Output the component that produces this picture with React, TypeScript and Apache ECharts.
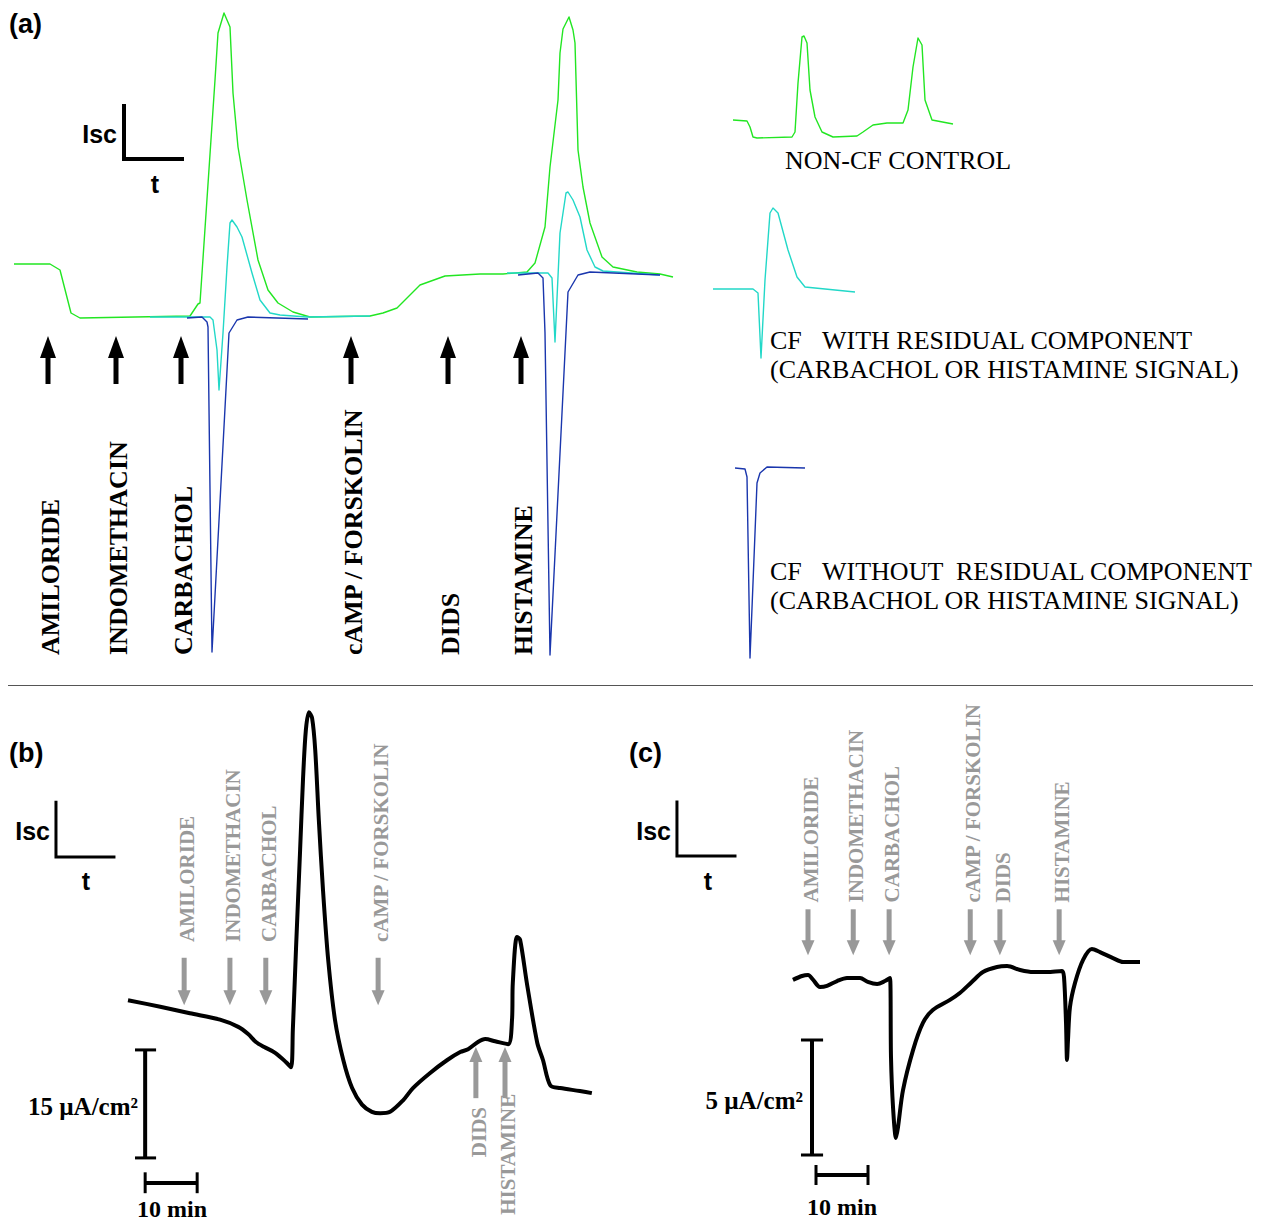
import React, { useEffect, useRef } from 'react';
import * as echarts from 'echarts';

// ---------- Panel (a): schematic traces, arbitrary units (time a.u., Isc a.u. vs baseline) ----------
const aNonCfMain: [number, number][] = [[0,54],[36,54],[46,48],[57,5],[66,0],[176,2],[184,14],[186,15],[201,238],[204,285],[210,305],[216,291],[219,225],[224,171],[233,118],[244,58],[254,28],[264,15],[279,6],[296,1],[356,2],[369,5],[383,10],[406,33],[431,42],[466,44],[489,44],[513,46],[521,55],[531,91],[536,151],[544,218],[546,265],[549,289],[555,301],[559,288],[561,275],[564,168],[569,131],[576,95],[588,61],[599,51],[623,46],[646,44],[659,41]];
const aResidualCarbachol: [number, number][] = [[136,1],[193,1],[196,1],[199,-2],[203,-32],[205,-72],[209,-15],[213,51],[216,95],[218,98],[223,91],[228,81],[238,45],[246,18],[256,5],[266,3],[293,1],[356,2]];
const aNoResidualCarbachol: [number, number][] = [[173,0],[188,1],[193,-4],[194,-9],[198,-334],[215,-15],[223,-2],[234,1],[294,-1]];
const aResidualHistamine: [number, number][] = [[493,45],[534,45],[538,40],[541,-24],[546,85],[552,125],[554,126],[559,118],[566,101],[573,68],[581,51],[589,47],[646,43]];
const aNoResidualHistamine: [number, number][] = [[504,43],[524,45],[529,40],[531,-15],[536,-337],[554,26],[564,43],[576,46],[646,43]];
const aLegendNonCf: [number, number][] = [[719,198],[733,197],[736,191],[739,181],[743,180],[778,181],[781,186],[784,235],[788,281],[790,282],[793,275],[796,228],[801,201],[808,186],[819,181],[843,182],[849,186],[859,193],[873,195],[889,195],[894,208],[899,251],[904,280],[908,273],[911,218],[918,198],[939,194]];
const aLegendResidual: [number, number][] = [[699,29],[739,29],[744,25],[747,-40],[751,38],[756,105],[759,110],[764,105],[774,68],[783,41],[791,31],[841,26]];
const aLegendNoResidual: [number, number][] = [[721,-150],[731,-151],[733,-159],[736,-340],[743,-165],[746,-155],[753,-149],[791,-150]];
const aScaleL: [number, number][] = [[110,212],[110,159],[168,159]];
const aArrowLabels = ['AMILORIDE', 'INDOMETHACIN', 'CARBACHOL', 'cAMP / FORSKOLIN', 'DIDS', 'HISTAMINE'];
const aArrowT = [34, 102, 167, 337, 434, 507];
const aArrowFrom = [-66, -66, -66, -66, -66, -66];
const aArrowTo = [-18, -18, -18, -18, -18, -18];
const aLabelAt = [-337, -337, -337, -337, -337, -337];

// ---------- Panel (b): time (min), Isc (µA/cm²) ----------
const bTrace: [number, number][] = [[20.0,30.3],[26.2,29.4],[31.9,28.5],[37.7,27.6],[41.2,26.6],[43.1,25.6],[44.6,24.5],[46.2,23.8],[48.3,23.0],[50.4,21.7],[51.35,21.0],[51.7,26.2],[52.3,37.3],[53.1,51.2],[53.65,60.9],[54.2,67.8],[54.8,70.3],[55.4,69.5],[56.0,65.1],[56.7,55.3],[57.5,45.6],[58.5,35.9],[59.8,27.6],[61.4,22.0],[63.1,18.1],[65.0,15.8],[66.9,14.8],[68.5,14.6],[70.4,14.8],[72.9,16.4],[74.8,18.1],[78.1,20.2],[81.4,22.0],[83.9,23.1],[85.4,23.5],[87.3,24.5],[88.7,24.9],[90.6,24.6],[93.1,24.2],[93.85,27.6],[94.0,32.7],[94.8,39.1],[95.4,38.7],[96.7,32.7],[98.7,24.4],[99.8,22.0],[101.2,18.5],[103.1,18.1],[106.9,17.7],[109.2,17.4]];
const bArrowLabels = ['AMILORIDE', 'INDOMETHACIN', 'CARBACHOL', 'cAMP / FORSKOLIN', 'DIDS', 'HISTAMINE'];
const bArrowT = [30.8, 39.6, 46.5, 68.1, 86.9, 92.5];
const bArrowFrom = [36.2, 36.2, 36.2, 36.2, 16.7, 16.7];
const bArrowTo = [29.6, 29.6, 29.6, 29.6, 23.8, 23.8];
const bLabelAt = [38.4, 38.4, 38.4, 38.4, 8.5, 0.5];
const bScaleL: [number, number][] = [[6.15,57.8],[6.15,50.2],[17.3,50.2]];
const bIscBar = { t: 23.3, from: 8.4, to: 23.4, capFrom: 21.35, capTo: 25.4 };
const bTimeBar = { i: 4.9, from: 23.3, to: 33.3, tickFrom: 3.5, tickTo: 6.4 };

// ---------- Panel (c): time (min), Isc (µA/cm²) ----------
const cTrace: [number, number][] = [[9.6,9.83],[11.35,10.0],[12.5,10.04],[13.5,9.83],[14.8,9.52],[16.15,9.57],[18.1,9.78],[20.0,9.91],[22.5,9.91],[24.0,9.74],[25.8,9.65],[27.3,9.78],[28.27,9.91],[28.46,6.48],[28.85,4.3],[29.42,2.96],[29.81,3.43],[30.77,5.04],[32.7,6.78],[34.6,7.96],[36.5,8.52],[39.8,8.96],[41.7,9.26],[44.0,9.74],[46.15,10.17],[48.85,10.39],[50.8,10.43],[53.3,10.26],[55.8,10.17],[58.5,10.17],[61.35,10.22],[61.73,9.96],[62.12,7.96],[62.31,6.35],[62.5,7.22],[62.88,8.65],[63.85,9.7],[65.4,10.7],[67.1,11.17],[68.65,11.04],[71.15,10.78],[73.1,10.61],[76.35,10.61]];
const cArrowLabels = ['AMILORIDE', 'INDOMETHACIN', 'CARBACHOL', 'cAMP / FORSKOLIN', 'DIDS', 'HISTAMINE'];
const cArrowT = [12.5, 21.2, 28.1, 43.7, 49.4, 60.8];
const cArrowFrom = [12.9, 12.9, 12.9, 12.9, 12.9, 12.9];
const cArrowTo = [10.9, 10.9, 10.9, 10.9, 10.9, 10.9];
const cLabelAt = [13.2, 13.2, 13.2, 13.2, 13.2, 13.2];
const cScaleL: [number, number][] = [[-12.7,17.57],[-12.7,15.22],[-1.54,15.22]];
const cIscBar = { t: 13.27, from: 2.22, to: 7.22, capFrom: 11.15, capTo: 15.4 };
const cTimeBar = { i: 1.35, from: 14.04, to: 24.04, tickFrom: 0.91, tickTo: 1.78 };

const SERIF = '"Liberation Serif", "Times New Roman", serif';
const SANS = '"Liberation Sans", Arial, sans-serif';
const GREEN = '#22e622';
const CYAN = '#22d8c8';
const BLUE = '#1a36ad';
const GRAY = '#999999';

function lineSeries(data: any[], idx: number, color: string, width: number, z = 2, smooth: number | boolean = false) {
  return {
    type: 'line', xAxisIndex: idx, yAxisIndex: idx, data, symbol: 'none', z, smooth,
    lineStyle: { color, width, join: 'round', cap: 'butt' }, silent: true, animation: false,
  };
}

function arrowSeries(idx: number, t: number[], from: number[], to: number[], lab: number[], labels: string[],
  cfg: { color: string; shaftW: number; headW: number; headLen: number; font: number; dx: number }) {
  return {
    type: 'custom', coordinateSystem: 'cartesian2d', xAxisIndex: idx, yAxisIndex: idx, silent: true,
    data: t.map((v, i) => [v, from[i], to[i], lab[i]]),
    encode: { x: 0, y: 1 },
    renderItem: (params: any, api: any) => {
      const i = params.dataIndex;
      const p0 = api.coord([api.value(0), api.value(1)]);
      const p1 = api.coord([api.value(0), api.value(2)]);
      const pl = api.coord([api.value(0), api.value(3)]);
      const dir = p1[1] > p0[1] ? 1 : -1;
      const base = p1[1] - dir * cfg.headLen;
      return {
        type: 'group',
        children: [
          { type: 'line', shape: { x1: p0[0], y1: p0[1], x2: p0[0], y2: base + dir }, style: { stroke: cfg.color, lineWidth: cfg.shaftW } },
          { type: 'polygon', shape: { points: [[p1[0] - cfg.headW / 2, base], [p1[0] + cfg.headW / 2, base], [p1[0], p1[1]]] }, style: { fill: cfg.color } },
          {
            type: 'text', x: pl[0] + cfg.dx, y: pl[1], rotation: Math.PI / 2,
            style: {
              text: labels[i], fill: cfg.color, fontFamily: SERIF, fontWeight: 'bold', fontSize: cfg.font,
              align: 'left', verticalAlign: 'middle', textAlign: 'left', textVerticalAlign: 'middle',
            },
          },
        ],
      };
    },
  };
}

function scaleBarSeries(idx: number, ib: any, tb: any) {
  return [
    lineSeries([[ib.t, ib.from], [ib.t, ib.to]], idx, '#000', 4, 3),
    lineSeries([[ib.capFrom, ib.from], [ib.capTo, ib.from]], idx, '#000', 3, 3),
    lineSeries([[ib.capFrom, ib.to], [ib.capTo, ib.to]], idx, '#000', 3, 3),
    lineSeries([[tb.from, tb.i], [tb.to, tb.i]], idx, '#000', 4, 3),
    lineSeries([[tb.from, tb.tickFrom], [tb.from, tb.tickTo]], idx, '#000', 3, 3),
    lineSeries([[tb.to, tb.tickFrom], [tb.to, tb.tickTo]], idx, '#000', 3, 3),
  ];
}

function txt(text: string, x: number, y: number, size: number, family: string, weight: string, align = 'left') {
  return {
    type: 'text', x, y, silent: true,
    style: { text, fill: '#000', fontSize: size, fontFamily: family, fontWeight: weight, align, verticalAlign: 'middle', textAlign: align, textVerticalAlign: 'middle' },
  };
}

export default function App() {
  const ref = useRef<HTMLDivElement>(null);
  useEffect(() => {
    if (!ref.current) return;
    const chart = echarts.init(ref.current, undefined, { renderer: 'svg' });
    const option: any = {
      animation: false,
      backgroundColor: '#ffffff',
      grid: [
        { left: 14, top: 0, width: 1250, height: 685 },
        { left: 24, top: 700, width: 624, height: 518.4 },
        { left: 639, top: 700, width: 624, height: 506 },
      ],
      xAxis: [
        { gridIndex: 0, type: 'value', min: 0, max: 1250, show: false },
        { gridIndex: 1, type: 'value', min: 0, max: 120, show: false },
        { gridIndex: 2, type: 'value', min: -20, max: 100, show: false },
      ],
      yAxis: [
        { gridIndex: 0, type: 'value', min: -367, max: 318, show: false },
        { gridIndex: 1, type: 'value', min: 0, max: 72, show: false },
        { gridIndex: 2, type: 'value', min: 0, max: 22, show: false },
      ],
      series: [
        lineSeries(aNonCfMain, 0, GREEN, 1.4),
        lineSeries(aResidualCarbachol, 0, CYAN, 1.4),
        lineSeries(aResidualHistamine, 0, CYAN, 1.4),
        lineSeries(aNoResidualCarbachol, 0, BLUE, 1.4),
        lineSeries(aNoResidualHistamine, 0, BLUE, 1.4),
        lineSeries(aLegendNonCf, 0, GREEN, 1.4),
        lineSeries(aLegendResidual, 0, CYAN, 1.4),
        lineSeries(aLegendNoResidual, 0, BLUE, 1.4),
        { ...lineSeries(aScaleL, 0, '#000', 4), lineStyle: { color: '#000', width: 4, join: 'miter', cap: 'square' } },
        arrowSeries(0, aArrowT, aArrowFrom, aArrowTo, aLabelAt, aArrowLabels, { color: '#000', shaftW: 5, headW: 16, headLen: 22, font: 26, dx: 2 }),

        lineSeries(bTrace, 1, '#000', 4, 2, 0.3),
        { ...lineSeries(bScaleL, 1, '#000', 3), lineStyle: { color: '#000', width: 3, join: 'miter', cap: 'square' } },
        ...scaleBarSeries(1, bIscBar, bTimeBar),
        arrowSeries(1, bArrowT, bArrowFrom, bArrowTo, bLabelAt, bArrowLabels, { color: GRAY, shaftW: 5, headW: 13, headLen: 15, font: 21, dx: 3 }),

        lineSeries(cTrace, 2, '#000', 4, 2, 0.3),
        { ...lineSeries(cScaleL, 2, '#000', 3), lineStyle: { color: '#000', width: 3, join: 'miter', cap: 'square' } },
        ...scaleBarSeries(2, cIscBar, cTimeBar),
        arrowSeries(2, cArrowT, cArrowFrom, cArrowTo, cLabelAt, cArrowLabels, { color: GRAY, shaftW: 5, headW: 13, headLen: 15, font: 21, dx: 3 }),
      ],
      graphic: [
        txt('(a)', 9, 24, 27, SANS, 'bold'),
        txt('Isc', 117, 134, 25, SANS, 'bold', 'right'),
        txt('t', 155, 184, 25, SANS, 'bold', 'center'),
        txt('NON-CF CONTROL', 785, 160, 26, SERIF, 'normal'),
        txt('CF', 770, 340, 26, SERIF, 'normal'),
        txt('WITH RESIDUAL COMPONENT', 822, 340, 26, SERIF, 'normal'),
        txt('(CARBACHOL OR HISTAMINE SIGNAL)', 770, 369, 26, SERIF, 'normal'),
        txt('CF', 770, 571, 26, SERIF, 'normal'),
        txt('WITHOUT', 822, 571, 26, SERIF, 'normal'),
        txt('RESIDUAL COMPONENT', 956, 571, 26, SERIF, 'normal'),
        txt('(CARBACHOL OR HISTAMINE SIGNAL)', 770, 600, 26, SERIF, 'normal'),
        { type: 'line', silent: true, shape: { x1: 8, y1: 685.5, x2: 1253, y2: 685.5 }, style: { stroke: '#555', lineWidth: 1 } },
        txt('(b)', 9, 753, 27, SANS, 'bold'),
        txt('Isc', 50, 831, 25, SANS, 'bold', 'right'),
        txt('t', 86, 881, 25, SANS, 'bold', 'center'),
        txt('15 µA/cm²', 138, 1106, 25, SERIF, 'bold', 'right'),
        txt('10 min', 172, 1209, 24, SERIF, 'bold', 'center'),
        txt('(c)', 629, 753, 27, SANS, 'bold'),
        txt('Isc', 671, 831, 25, SANS, 'bold', 'right'),
        txt('t', 708, 881, 25, SANS, 'bold', 'center'),
        txt('5 µA/cm²', 803, 1100, 25, SERIF, 'bold', 'right'),
        txt('10 min', 842, 1207, 24, SERIF, 'bold', 'center'),
      ],
    };
    chart.setOption(option);
    return () => chart.dispose();
  }, []);
  return <div ref={ref} style={{ position: 'absolute', left: 0, top: 0, width: 1264, height: 1223, background: '#fff' }} />;
}
